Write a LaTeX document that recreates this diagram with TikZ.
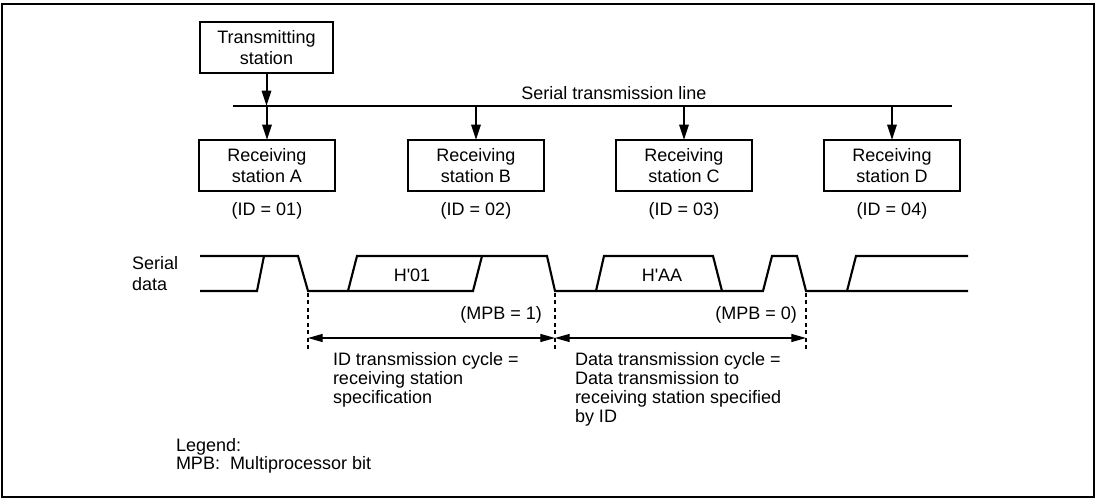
\documentclass[tikz,border=0pt]{standalone}
\usepackage{fontspec}
\setmainfont{Liberation Sans}[Ligatures=TeXOff]
\usetikzlibrary{arrows.meta}
\begin{document}
\begin{tikzpicture}[x=0.75pt,y=-0.75pt,
  every node/.style={font=\fontsize{13.5pt}{16.2pt}\selectfont, inner sep=0pt, outer sep=0pt},
  stbox/.style={draw, line width=1.8pt, minimum width=102pt, minimum height=38.25pt, align=center},
  feed/.style={line width=1.5pt, -{Triangle[length=11.5pt,width=7pt]}},
  busline/.style={line width=0.9pt},
  wave/.style={line width=1.6pt, line join=miter},
  guide/.style={line width=0.9pt, dash pattern=on 3pt off 2.6pt},
  span/.style={line width=0.9pt, {Triangle[length=11pt,width=6pt]}-{Triangle[length=11pt,width=6pt]}},
  txt/.style={align=left},
  note/.style={align=left, font=\fontsize{13.5pt}{14.25pt}\selectfont}
]
\useasboundingbox (0,0) rectangle (1100,499);
\draw[line width=2pt] (2,4) rectangle (1094,497);

% stations
\node[stbox, minimum width=99.75pt] (ts) at (266.5,47.5) {Transmitting\\station};
\node[stbox] (ra) at (267,165.5) {Receiving\\station A};
\node[stbox] (rb) at (476,165.5) {Receiving\\station B};
\node[stbox] (rc) at (684,165.5) {Receiving\\station C};
\node[stbox] (rd) at (892,165.5) {Receiving\\station D};

\node (ida) at (267,211) {(ID = 01)};
\node (idb) at (476,211) {(ID = 02)};
\node (idc) at (684,211) {(ID = 03)};
\node (idd) at (892,211) {(ID = 04)};

% transmission line
\coordinate (l0) at (233,106);
\coordinate (l1) at (952,106);
\draw[busline] (l0) -- (l1);
\node (stl) at (614,93) {Serial transmission line};

\draw[feed] (ts.south) -- (ts.south |- l0);
\draw[feed] (ra.north |- l0) -- (ra.north);
\draw[feed] (rb.north |- l0) -- (rb.north);
\draw[feed] (rc.north |- l0) -- (rc.north);
\draw[feed] (rd.north |- l0) -- (rd.north);

% serial data waveform
\node[txt, anchor=base west] (sd) at (132,291) {Serial\\data};
\draw[wave] (200,256) -- (298,256) -- (308,291) -- (473,291) -- (482,256);
\draw[wave] (348,291) -- (357,256) -- (547,256) -- (555,291) -- (763,291) -- (772,256) -- (797,256) -- (806,291) -- (968,291);
\draw[wave] (200,291) -- (257,291) -- (264,256);
\draw[wave] (596,291) -- (604,256) -- (713,256) -- (722,291);
\draw[wave] (847,291) -- (856,256) -- (968,256);

\node[anchor=base] (h01) at (412,281.7) {H'01};
\node[anchor=base] (haa) at (662,281.7) {H'AA};
\node[anchor=base east] (mpb1) at (542,319) {(MPB = 1)};
\node[anchor=base east] (mpb0) at (797,319) {(MPB = 0)};

% guides and spans
\coordinate (g1t) at (308,293); \coordinate (g1b) at (308,349);
\coordinate (g2t) at (555,293); \coordinate (g2b) at (555,349);
\coordinate (g3t) at (806,293); \coordinate (g3b) at (806,349);
\draw[guide] (g1t) -- (g1b);
\draw[guide] (g2t) -- (g2b);
\draw[guide] (g3t) -- (g3b);
\coordinate (a1) at (308,338);
\coordinate (a2) at (555,338);
\coordinate (a3) at (806,338);
\draw[span] (a1) -- (a2);
\draw[span] (a2) -- (a3);

\node[note, anchor=base west] (idt) at (333,403) {ID transmission cycle =\\receiving station\\specification};
\node[note, anchor=base west] (dtc) at (575,422) {Data transmission cycle =\\Data transmission to\\receiving station specified\\by ID};

\node[txt, anchor=base west, font=\fontsize{13.5pt}{13.8pt}\selectfont] (lg) at (176,469.5) {Legend:\\MPB:\ \ Multiprocessor bit};
\end{tikzpicture}
\end{document}
